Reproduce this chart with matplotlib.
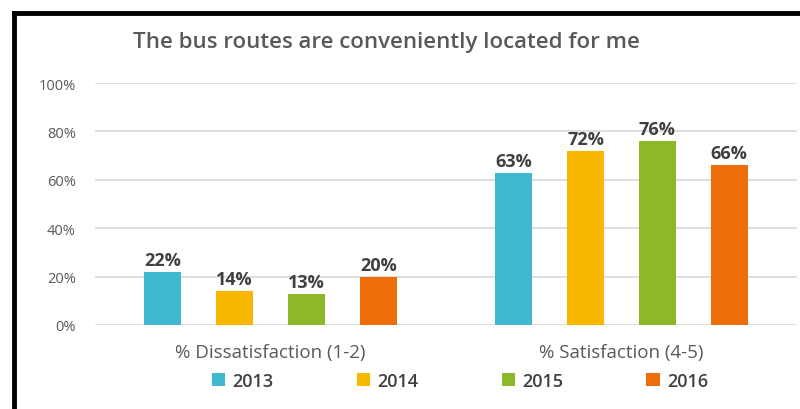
import numpy as np
import matplotlib.pyplot as plt
from matplotlib.lines import Line2D

plt.rcParams['font.family'] = ['Open Sans', 'DejaVu Sans']

# Data
categories = ["% Dissatisfaction (1-2)", "% Satisfaction (4-5)"]
years = ["2013", "2014", "2015", "2016"]
values = {
    "2013": [22, 63],
    "2014": [14, 72],
    "2015": [13, 76],
    "2016": [20, 66],
}
colors = ["#3FB8D0", "#F9B800", "#8DB827", "#EC6D0A"]
yticks = [0, 20, 40, 60, 80, 100]

fig = plt.figure(figsize=(8, 4.1), dpi=100)
ax = fig.add_axes([0.119, 0.205, 0.877, 0.590])

x = np.arange(len(categories))
width = 0.105
step = 0.205
for i, yr in enumerate(years):
    offs = (i - 1.5) * step
    vals = values[yr]
    bars = ax.bar(x + offs, vals, width, color=colors[i], label=yr, zorder=3)
    for b, v in zip(bars, vals):
        ax.text(b.get_x() + b.get_width() / 2, v + 1.2, f"{v}%",
                ha="center", va="bottom", fontsize=13, fontweight="bold",
                color="#404040")

ax.set_xlim(-0.5, 1.5)
ax.set_ylim(0, 100)
ax.set_yticks(yticks)
ax.set_yticklabels([f"{t}%" for t in yticks], fontsize=10.5, color="#595959")
ax.set_xticks(x)
ax.set_xticklabels(categories, fontsize=13.5, color="#595959")
ax.tick_params(axis="both", length=0, pad=14)
ax.tick_params(axis="x", pad=13)
ax.grid(axis="y", color="#D9D9D9", linewidth=1.2, zorder=0)
for s in ax.spines.values():
    s.set_visible(False)

fig.text(0.483, 0.897, "The bus routes are conveniently located for me",
         ha="center", va="center", fontsize=16, fontweight="semibold",
         color="#595959")

leg = fig.legend(loc="center", bbox_to_anchor=(0.575, 0.068), ncol=4,
                 frameon=False, fontsize=13, handlelength=0.75,
                 handleheight=0.75, columnspacing=4.6, handletextpad=0.4)
for t in leg.get_texts():
    t.set_color("#404040")
    t.set_fontweight("semibold")

# black frame (top and left edges visible)
fig.add_artist(Line2D([14 / 800, 1.0], [396 / 410, 396 / 410],
                      transform=fig.transFigure, color="black", linewidth=3.5))
fig.add_artist(Line2D([14 / 800, 14 / 800], [0, 396 / 410],
                      transform=fig.transFigure, color="black", linewidth=3.5))

plt.savefig("out.png", dpi=100)
